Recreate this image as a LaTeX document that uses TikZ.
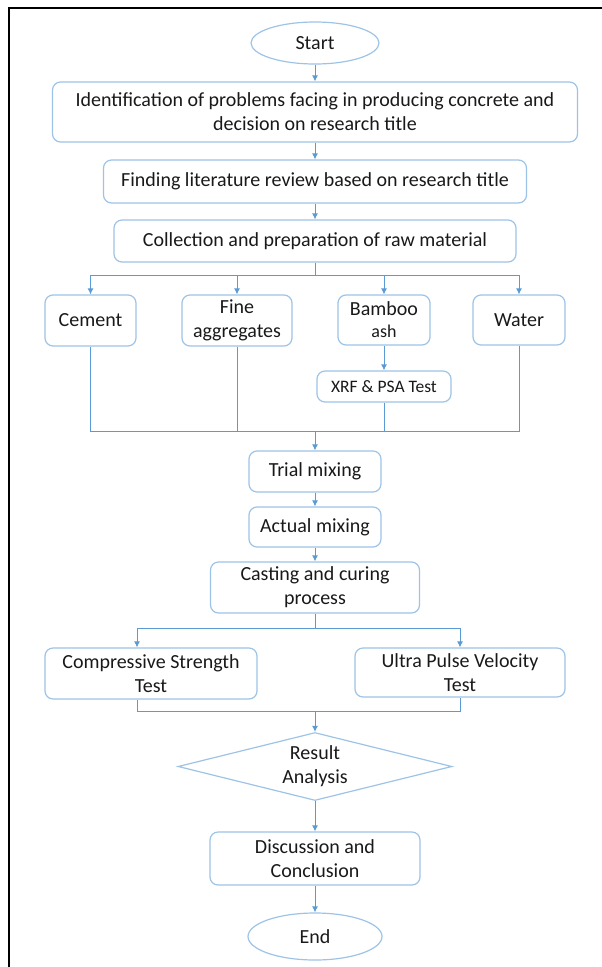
\documentclass[tikz,border=0pt]{standalone}
\usepackage{fontspec}
\setmainfont{Carlito}
\usetikzlibrary{shapes.geometric,arrows.meta}
\definecolor{boxline}{RGB}{157,195,230}
\definecolor{flowline}{RGB}{91,155,213}
\definecolor{txt}{RGB}{25,25,25}
\begin{document}
\begin{tikzpicture}[x=1pt,y=-1pt,
  box/.style={draw=boxline,line width=1.2pt,rounded corners=8pt,align=center,inner sep=0pt,text=txt,font=\fontsize{20}{24}\selectfont},
  term/.style={box,ellipse,rounded corners=0pt},
  flow/.style={draw=flowline,line width=1pt,-{Latex[length=6pt,width=6pt]}},
  link/.style={draw=flowline,line width=1pt}]
\useasboundingbox (0,0) rectangle (602,967);
% frame
\draw[line width=2pt] (9,967) -- (9,8) -- (602,8);

% main column
\node[term,minimum width=128,minimum height=42] (start) at (315,43) {Start};
\node[box,minimum width=525,minimum height=60] (ident) at (315,112)
  {Identification of problems facing in producing concrete and\\decision on research title};
\node[box,minimum width=423,minimum height=43] (find) at (315,181.5)
  {Finding literature review based on research title};
\node[box,minimum width=402,minimum height=42] (coll) at (315,241)
  {Collection and preparation of raw material};

% materials
\node[box,minimum width=91,minimum height=51] (cement) at (90.5,320.5) {Cement};
\node[box,minimum width=110,minimum height=51] (fine) at (237,320.5) {Fine\\aggregates};
\node[box,minimum width=92,minimum height=50] (bamboo) at (384,320)
  {Bamboo\\[-2pt]{\fontsize{18}{20}\selectfont ash}};
\node[box,minimum width=92,minimum height=50] (water) at (519,320) {Water};
\node[box,minimum width=134,minimum height=31,font=\fontsize{17.5}{20}\selectfont] (xrf) at (384,386.5) {XRF \& PSA Test};

\node[box,minimum width=132,minimum height=41] (trial) at (315,471.5) {Trial mixing};
\node[box,minimum width=132,minimum height=40] (actual) at (315,527) {Actual mixing};
\node[box,minimum width=209,minimum height=51] (cast) at (315,587.5) {Casting and curing\\process};

% tests
\node[box,minimum width=212,minimum height=51] (comp) at (151,673.5) {Compressive Strength\\Test};
\node[box,minimum width=210,minimum height=49] (ultra) at (460,672.5) {Ultra Pulse Velocity\\Test};

\node[box,diamond,aspect=5,rounded corners=0pt,minimum width=274,minimum height=68] (result) at (315,766.5) {Result\\Analysis};
\node[box,minimum width=210,minimum height=53] (disc) at (315,858.5) {Discussion and\\Conclusion};
\node[term,minimum width=134,minimum height=47] (end) at (315,936.5) {End};

\coordinate (split) at (315,275);
\coordinate (merge) at (315,431);
\coordinate (split2) at (315,628);
\coordinate (merge2) at (315,711);

\draw[flow] (start) -- (ident);
\draw[flow] (ident) -- (find);
\draw[flow] (find) -- (coll);
\draw[link] (coll) -- (split);
\draw[flow] (split) -| (cement);
\draw[flow] (split) -| (fine);
\draw[flow] (split) -| (bamboo);
\draw[flow] (split) -| (water);
\draw[flow] (bamboo) -- (xrf);
\draw[link] (cement) |- (merge);
\draw[link] (fine) |- (merge);
\draw[link] (xrf) |- (merge);
\draw[link] (water) |- (merge);
\draw[flow] (merge) -- (trial);
\draw[flow] (trial) -- (actual);
\draw[flow] (actual) -- (cast);
\draw[link] (cast) -- (split2);
\draw[flow] (split2) -| ([xshift=-14]comp.north);
\draw[flow] (split2) -| (ultra);
\draw[link] ([xshift=-14]comp.south) |- (merge2);
\draw[link] (ultra) |- (merge2);
\draw[flow] (merge2) -- (result);
\draw[flow] (result) -- (disc);
\draw[flow] (disc) -- (end);
\end{tikzpicture}
\end{document}
